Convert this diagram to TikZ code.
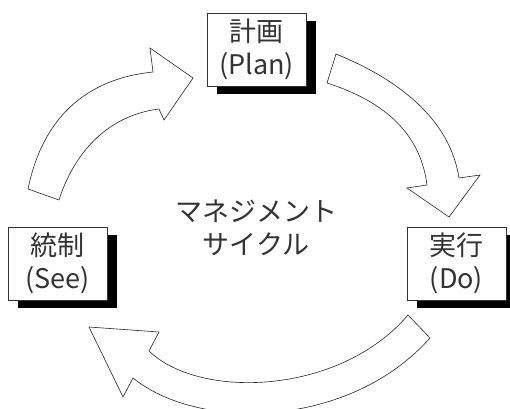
\documentclass[tikz,border=0pt]{standalone}
\usepackage{fontspec}
\setmainfont{Noto Sans CJK JP}
\usetikzlibrary{shadows}

\begin{document}
\begin{tikzpicture}[x=1pt, y=-1pt,
  every node/.style={font=\fontsize{27}{33}\selectfont, text=black!80, align=center},
  line width=0.6pt
]
\tikzset{
  etapa/.style={draw=black!80, fill=white, line width=0.8pt, minimum width=99pt, minimum height=73pt,
    inner sep=0pt, drop shadow={shadow xshift=10pt, shadow yshift=-8pt, fill=black, opacity=1}},
  seta/.style={draw=black!85, fill=white, line join=miter}
}
\clip (0,0) rectangle (510,408);

% as tres setas
\draw[seta] (28,189) .. controls (40,130) and (75,80) .. (153,72) -- (150,48) -- (193,78)
  -- (164,120) -- (159,109) .. controls (110,115) and (75,150) .. (59,200) -- cycle;
\draw[seta] (336,54) .. controls (400,80) and (450,120) .. (459,178) -- (480,175) -- (449,217)
  -- (407,188) -- (427,185) .. controls (420,130) and (380,100) .. (327,83) -- cycle;
\draw[seta] (408,315) .. controls (340,395) and (200,400) .. (149,351) -- (159,332) -- (89,327)
  -- (123,397) -- (133,378) .. controls (200,432) and (350,428) .. (430,338) -- cycle;

\node[etapa] (plan) at (256.5,49.5) {計画\\(Plan)};
\node[etapa] (see) at (57.5,263.5) {統制\\(See)};
\node[etapa] (do) at (456.5,263.5) {実行\\(Do)};
\node (ciclo) at (256,228) {マネジメント\\サイクル};
\end{tikzpicture}
\end{document}
